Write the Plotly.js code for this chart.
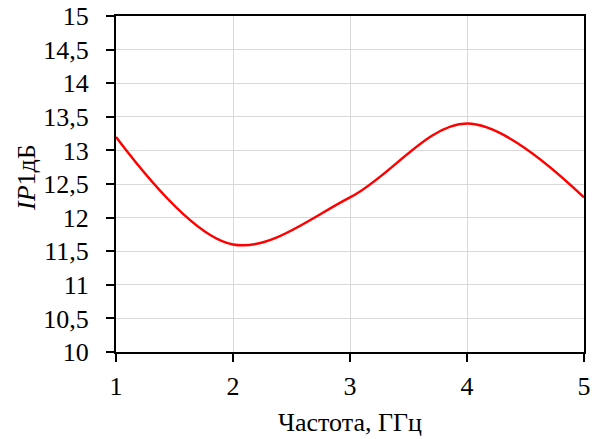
<!DOCTYPE html>
<html>
<head>
<meta charset="utf-8">
<script src="https://cdn.plot.ly/plotly-3.0.1.min.js"></script>
<style>html,body{margin:0;padding:0;background:#fff;}#chart{width:601px;height:439px;}</style>
</head>
<body>
<div id="chart"></div>
<script>
var freq = [1, 2, 3, 4, 5];
var ip1db = [13.2, 11.6, 12.3, 13.4, 12.3];
var xTitle = 'Частота, ГГц';
var yTitle = '<i>IP</i>1дБ';

var font = {family: '"Liberation Serif", "Times New Roman", serif', size: 26, color: '#000'};

Plotly.newPlot('chart', [{
  x: freq, y: ip1db, type: 'scatter', mode: 'lines',
  line: {color: '#ff0000', width: 2.5, shape: 'spline', smoothing: 1},
  hoverinfo: 'none'
}], {
  width: 601, height: 439,
  margin: {l: 116, r: 17, t: 16, b: 87},
  paper_bgcolor: '#fff', plot_bgcolor: '#fff',
  separators: ', ',
  font: font,
  showlegend: false,
  xaxis: {
    range: [1, 5], dtick: 1, tick0: 1,
    showgrid: true, gridcolor: '#d9d9d9', gridwidth: 1,
    showline: true, linecolor: '#000', linewidth: 2, mirror: true,
    ticks: 'outside', ticklen: 8, tickwidth: 2, tickcolor: '#000',
    ticklabelstandoff: 2,
    zeroline: false, tickfont: font,
    title: {text: xTitle, font: font, standoff: 13}
  },
  yaxis: {
    range: [10, 15], dtick: 0.5, tick0: 10,
    showgrid: true, gridcolor: '#d9d9d9', gridwidth: 1,
    showline: true, linecolor: '#000', linewidth: 2, mirror: true,
    ticks: 'outside', ticklen: 8, tickwidth: 2, tickcolor: '#000',
    ticklabelstandoff: 12,
    zeroline: false, tickfont: font,
    title: {text: ''}
  },
  annotations: [{
    text: yTitle, font: font, textangle: -90, showarrow: false,
    xref: 'paper', yref: 'paper', x: -0.19, y: 0.518,
    xanchor: 'center', yanchor: 'middle'
  }]
}, {staticPlot: true, displayModeBar: false});
</script>
</body>
</html>
